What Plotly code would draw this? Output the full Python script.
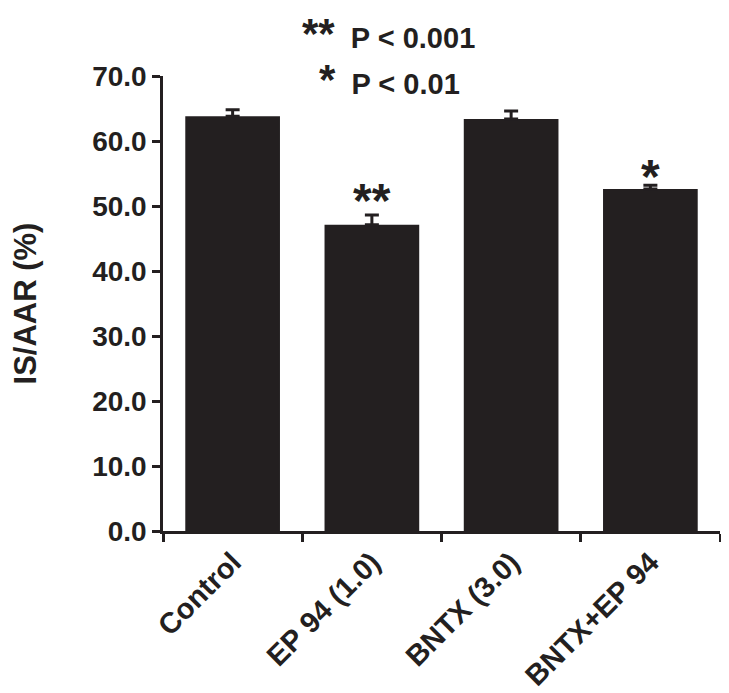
import plotly.graph_objects as go

groups = ["Control", "EP 94 (1.0)", "BNTX (3.0)", "BNTX+EP 94"]
means = [63.8, 47.1, 63.4, 52.6]
errors = [1.0, 1.5, 1.2, 0.6]
marks = ["", "**", "", "*"]
y_ticks = [0, 10, 20, 30, 40, 50, 60, 70]
key_marks = ["**", "*"]
key_text = ["P < 0.001", "P < 0.01"]

ink = "#231f20"
font = "Liberation Sans, Arial, sans-serif"

fig = go.Figure()
fig.add_trace(go.Bar(
    x=groups, y=means, width=0.68,
    marker=dict(color=ink, line=dict(width=0)),
    error_y=dict(type="data", array=errors, arrayminus=[0] * 4, symmetric=False,
                 color=ink, thickness=3, width=7),
))

# significance marks above bars (gap above the error cap, in axis units)
gaps = [0, 2.2, 0, 1.4]
for g, m, e, s, d in zip(groups, means, errors, marks, gaps):
    if s:
        fig.add_annotation(x=g, y=m + e + d, text="<b>" + s + "</b>", showarrow=False,
                           yanchor="middle", font=dict(size=48, color=ink, family=font))

# key at top: big asterisks inline with the p-value text
key_x = [0.248, 0.279]
key_y = [1.094, 0.992]
for km, kt, x, y in zip(key_marks, key_text, key_x, key_y):
    fig.add_annotation(xref="paper", yref="paper", x=x, y=y, showarrow=False,
                       text='<b><span style="font-size:42px">' + km + "</span> &nbsp;" + kt + "</b>",
                       xanchor="left", yanchor="middle", borderpad=0,
                       font=dict(size=29, color=ink, family=font))

fig.update_layout(
    width=721, height=685,
    margin=dict(l=155, r=9, t=68, b=162, autoexpand=False),
    plot_bgcolor="white", paper_bgcolor="white",
    showlegend=False,
    font=dict(family=font, color=ink),
    xaxis=dict(
        tickvals=groups, ticktext=["<b>" + g + "</b>" for g in groups],
        showline=True, linecolor=ink, linewidth=2.5,
        ticks="outside", tickson="boundaries", ticklen=8, tickwidth=2.5, tickcolor=ink,
        tickangle=-45, tickfont=dict(size=29, family=font, color=ink),
        showgrid=False, automargin=False,
    ),
    yaxis=dict(
        range=[0, 70], tickvals=y_ticks, ticktext=["<b>%.1f</b>" % v for v in y_ticks],
        showline=True, linecolor=ink, linewidth=2.5,
        ticks="outside", ticklen=8, tickwidth=2.5, tickcolor=ink,
        tickfont=dict(size=28, color=ink, family=font), showgrid=False, zeroline=False,
        automargin=False,
        title=dict(text="<b>IS/AAR (%)</b>", font=dict(size=31, color=ink, family=font), standoff=60),
    ),
)

fig.write_html("out.html")
